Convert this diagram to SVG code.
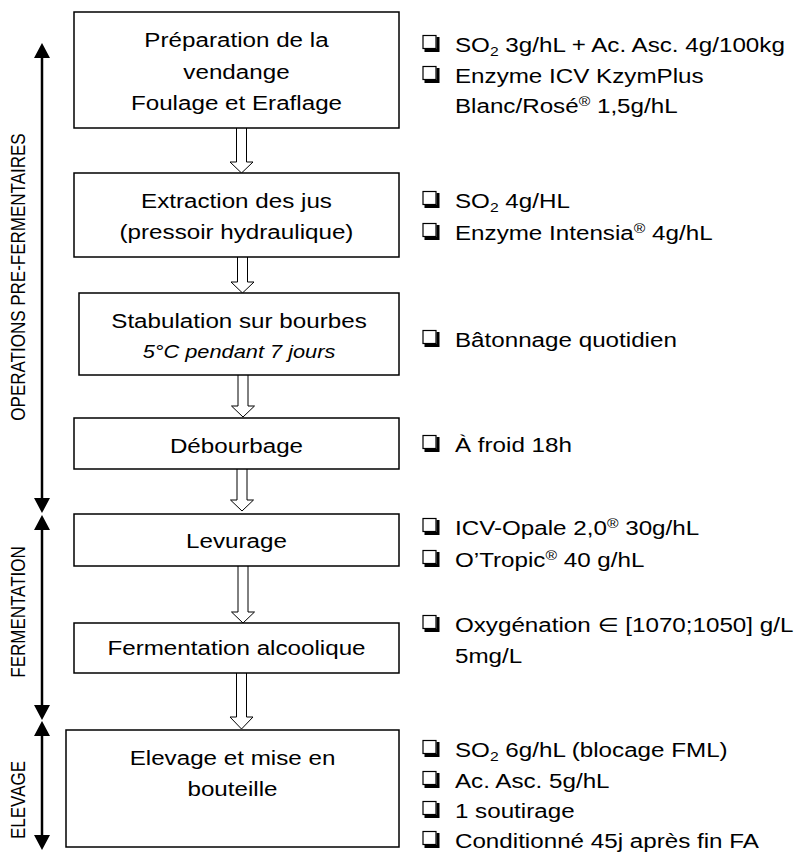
<svg xmlns="http://www.w3.org/2000/svg" xmlns:xlink="http://www.w3.org/1999/xlink" width="796" height="852" viewBox="0 0 796 852">
<style>
text{font-family:"Liberation Sans","DejaVu Sans",sans-serif;fill:#000}
.t{font-size:20px}
.c{text-anchor:middle}
.it{font-size:18px;font-style:italic}
.v{font-size:20px;text-anchor:middle}
.box{fill:#fff;stroke:#000;stroke-width:1.5}
.barrow{fill:#fff;stroke:#000;stroke-width:1}
.phase{stroke:#000;stroke-width:2.5;fill:none;marker-start:url(#ah);marker-end:url(#ah)}
.sm{font-size:13px}
</style>
<defs>
<marker id="ah" markerUnits="userSpaceOnUse" markerWidth="16" markerHeight="16" refX="0" refY="8" orient="auto-start-reverse" viewBox="0 0 16 16">
<path d="M0,0 L15,8 L0,16 z" fill="#000"/>
</marker>
<g id="cb">
<rect x="0.5" y="-16.5" width="13" height="13" fill="#fff" stroke="#000" stroke-width="1.2"/>
<path d="M14,-15 H17 V0 H2 V-3 H14 z" fill="#000"/>
</g>
</defs>
<rect width="796" height="852" fill="#fff"/>

<g id="phases">
<line class="phase" x1="42" y1="58" x2="42" y2="498"/>
<line class="phase" x1="42" y1="530" x2="42" y2="705"/>
<line class="phase" x1="42" y1="736" x2="42" y2="835"/>
<text class="v" transform="translate(25,277) rotate(-90) scale(0.85,1)">OPERATIONS PRE-FERMENTAIRES</text>
<text class="v" transform="translate(25,612) rotate(-90) scale(0.85,1)">FERMENTATION</text>
<text class="v" transform="translate(25,800) rotate(-90) scale(0.85,1)">ELEVAGE</text>
</g>

<g id="connectors">
<path class="barrow" d="M236.5,128 V162 H230 L241.5,173 L253,162 H246.5 V128"/>
<path class="barrow" d="M237.5,257 V282 H231 L242.5,293 L254,282 H247.5 V257"/>
<path class="barrow" d="M238,375 V406 H231.5 L243,417 L254.5,406 H248 V375"/>
<path class="barrow" d="M237,469 V500 H230.5 L242,511 L253.5,500 H247 V469"/>
<path class="barrow" d="M238,566 V612 H231.5 L243,623 L254.5,612 H248 V566"/>
<path class="barrow" d="M236.5,673 V717 H230 L241.5,729 L253,717 H246.5 V673"/>
</g>

<g id="n1">
<rect class="box" x="74" y="12" width="325" height="116"/>
<text class="t c" transform="scale(1.21,1)" x="195.45" y="47">Préparation de la</text>
<text class="t c" transform="scale(1.21,1)" x="195.45" y="79">vendange</text>
<text class="t c" transform="scale(1.21,1)" x="195.45" y="110">Foulage et Eraflage</text>
</g>
<g id="n2">
<rect class="box" x="74" y="173" width="325" height="84"/>
<text class="t c" transform="scale(1.21,1)" x="195.45" y="208">Extraction des jus</text>
<text class="t c" transform="scale(1.21,1)" x="195.45" y="239">(pressoir hydraulique)</text>
</g>
<g id="n3">
<rect class="box" x="79" y="293" width="320" height="82"/>
<text class="t c" transform="scale(1.21,1)" x="197.52" y="328">Stabulation sur bourbes</text>
<text class="it c" transform="scale(1.21,1)" x="197.52" y="358">5°C pendant 7 jours</text>
</g>
<g id="n4">
<rect class="box" x="74" y="418" width="325" height="51"/>
<text class="t c" transform="scale(1.21,1)" x="195.45" y="453">Débourbage</text>
</g>
<g id="n5">
<rect class="box" x="74" y="514" width="325" height="52"/>
<text class="t c" transform="scale(1.21,1)" x="195.45" y="548">Levurage</text>
</g>
<g id="n6">
<rect class="box" x="74" y="623" width="325" height="50"/>
<text class="t c" transform="scale(1.21,1)" x="195.45" y="655">Fermentation alcoolique</text>
</g>
<g id="n7">
<rect class="box" x="66" y="730" width="333" height="117"/>
<text class="t c" transform="scale(1.21,1)" x="192.15" y="765">Elevage et mise en</text>
<text class="t c" transform="scale(1.21,1)" x="192.15" y="796">bouteille</text>
</g>

<g id="note1">
<use xlink:href="#cb" x="422.5" y="52"/>
<use xlink:href="#cb" x="422.5" y="83"/>
<text class="t" transform="scale(1.21,1)" x="376" y="52">SO<tspan class="sm" dy="4">2</tspan><tspan dy="-4"> 3g/hL + Ac. Asc. 4g/100kg</tspan></text>
<text class="t" transform="scale(1.21,1)" x="376" y="83">Enzyme ICV KzymPlus</text>
<text class="t" transform="scale(1.21,1)" x="376" y="113">Blanc/Rosé<tspan class="sm" dy="-7">®</tspan><tspan dy="7"> 1,5g/hL</tspan></text>
</g>
<g id="note2">
<use xlink:href="#cb" x="422.5" y="208"/>
<use xlink:href="#cb" x="422.5" y="240"/>
<text class="t" transform="scale(1.21,1)" x="376" y="208">SO<tspan class="sm" dy="4">2</tspan><tspan dy="-4"> 4g/HL</tspan></text>
<text class="t" transform="scale(1.21,1)" x="376" y="240">Enzyme Intensia<tspan class="sm" dy="-7">®</tspan><tspan dy="7"> 4g/hL</tspan></text>
</g>
<g id="note3">
<use xlink:href="#cb" x="422.5" y="347"/>
<text class="t" transform="scale(1.21,1)" x="376" y="347">Bâtonnage quotidien</text>
</g>
<g id="note4">
<use xlink:href="#cb" x="422.5" y="452"/>
<text class="t" transform="scale(1.21,1)" x="376" y="452">À froid 18h</text>
</g>
<g id="note5">
<use xlink:href="#cb" x="422.5" y="535"/>
<use xlink:href="#cb" x="422.5" y="567"/>
<text class="t" transform="scale(1.21,1)" x="376" y="535">ICV-Opale 2,0<tspan class="sm" dy="-7">®</tspan><tspan dy="7"> 30g/hL</tspan></text>
<text class="t" transform="scale(1.21,1)" x="376" y="567">O’Tropic<tspan class="sm" dy="-7">®</tspan><tspan dy="7"> 40 g/hL</tspan></text>
</g>
<g id="note6">
<use xlink:href="#cb" x="422.5" y="632"/>
<text class="t" transform="scale(1.21,1)" x="376" y="632">Oxygénation ∈ [1070;1050] g/L</text>
<text class="t" transform="scale(1.21,1)" x="376" y="663">5mg/L</text>
</g>
<g id="note7">
<use xlink:href="#cb" x="422.5" y="757"/>
<use xlink:href="#cb" x="422.5" y="788"/>
<use xlink:href="#cb" x="422.5" y="818"/>
<use xlink:href="#cb" x="422.5" y="848"/>
<text class="t" transform="scale(1.21,1)" x="376" y="757">SO<tspan class="sm" dy="4">2</tspan><tspan dy="-4"> 6g/hL (blocage FML)</tspan></text>
<text class="t" transform="scale(1.21,1)" x="376" y="788">Ac. Asc. 5g/hL</text>
<text class="t" transform="scale(1.21,1)" x="376" y="818">1 soutirage</text>
<text class="t" transform="scale(1.21,1)" x="376" y="848">Conditionné 45j après fin FA</text>
</g>
</svg>
